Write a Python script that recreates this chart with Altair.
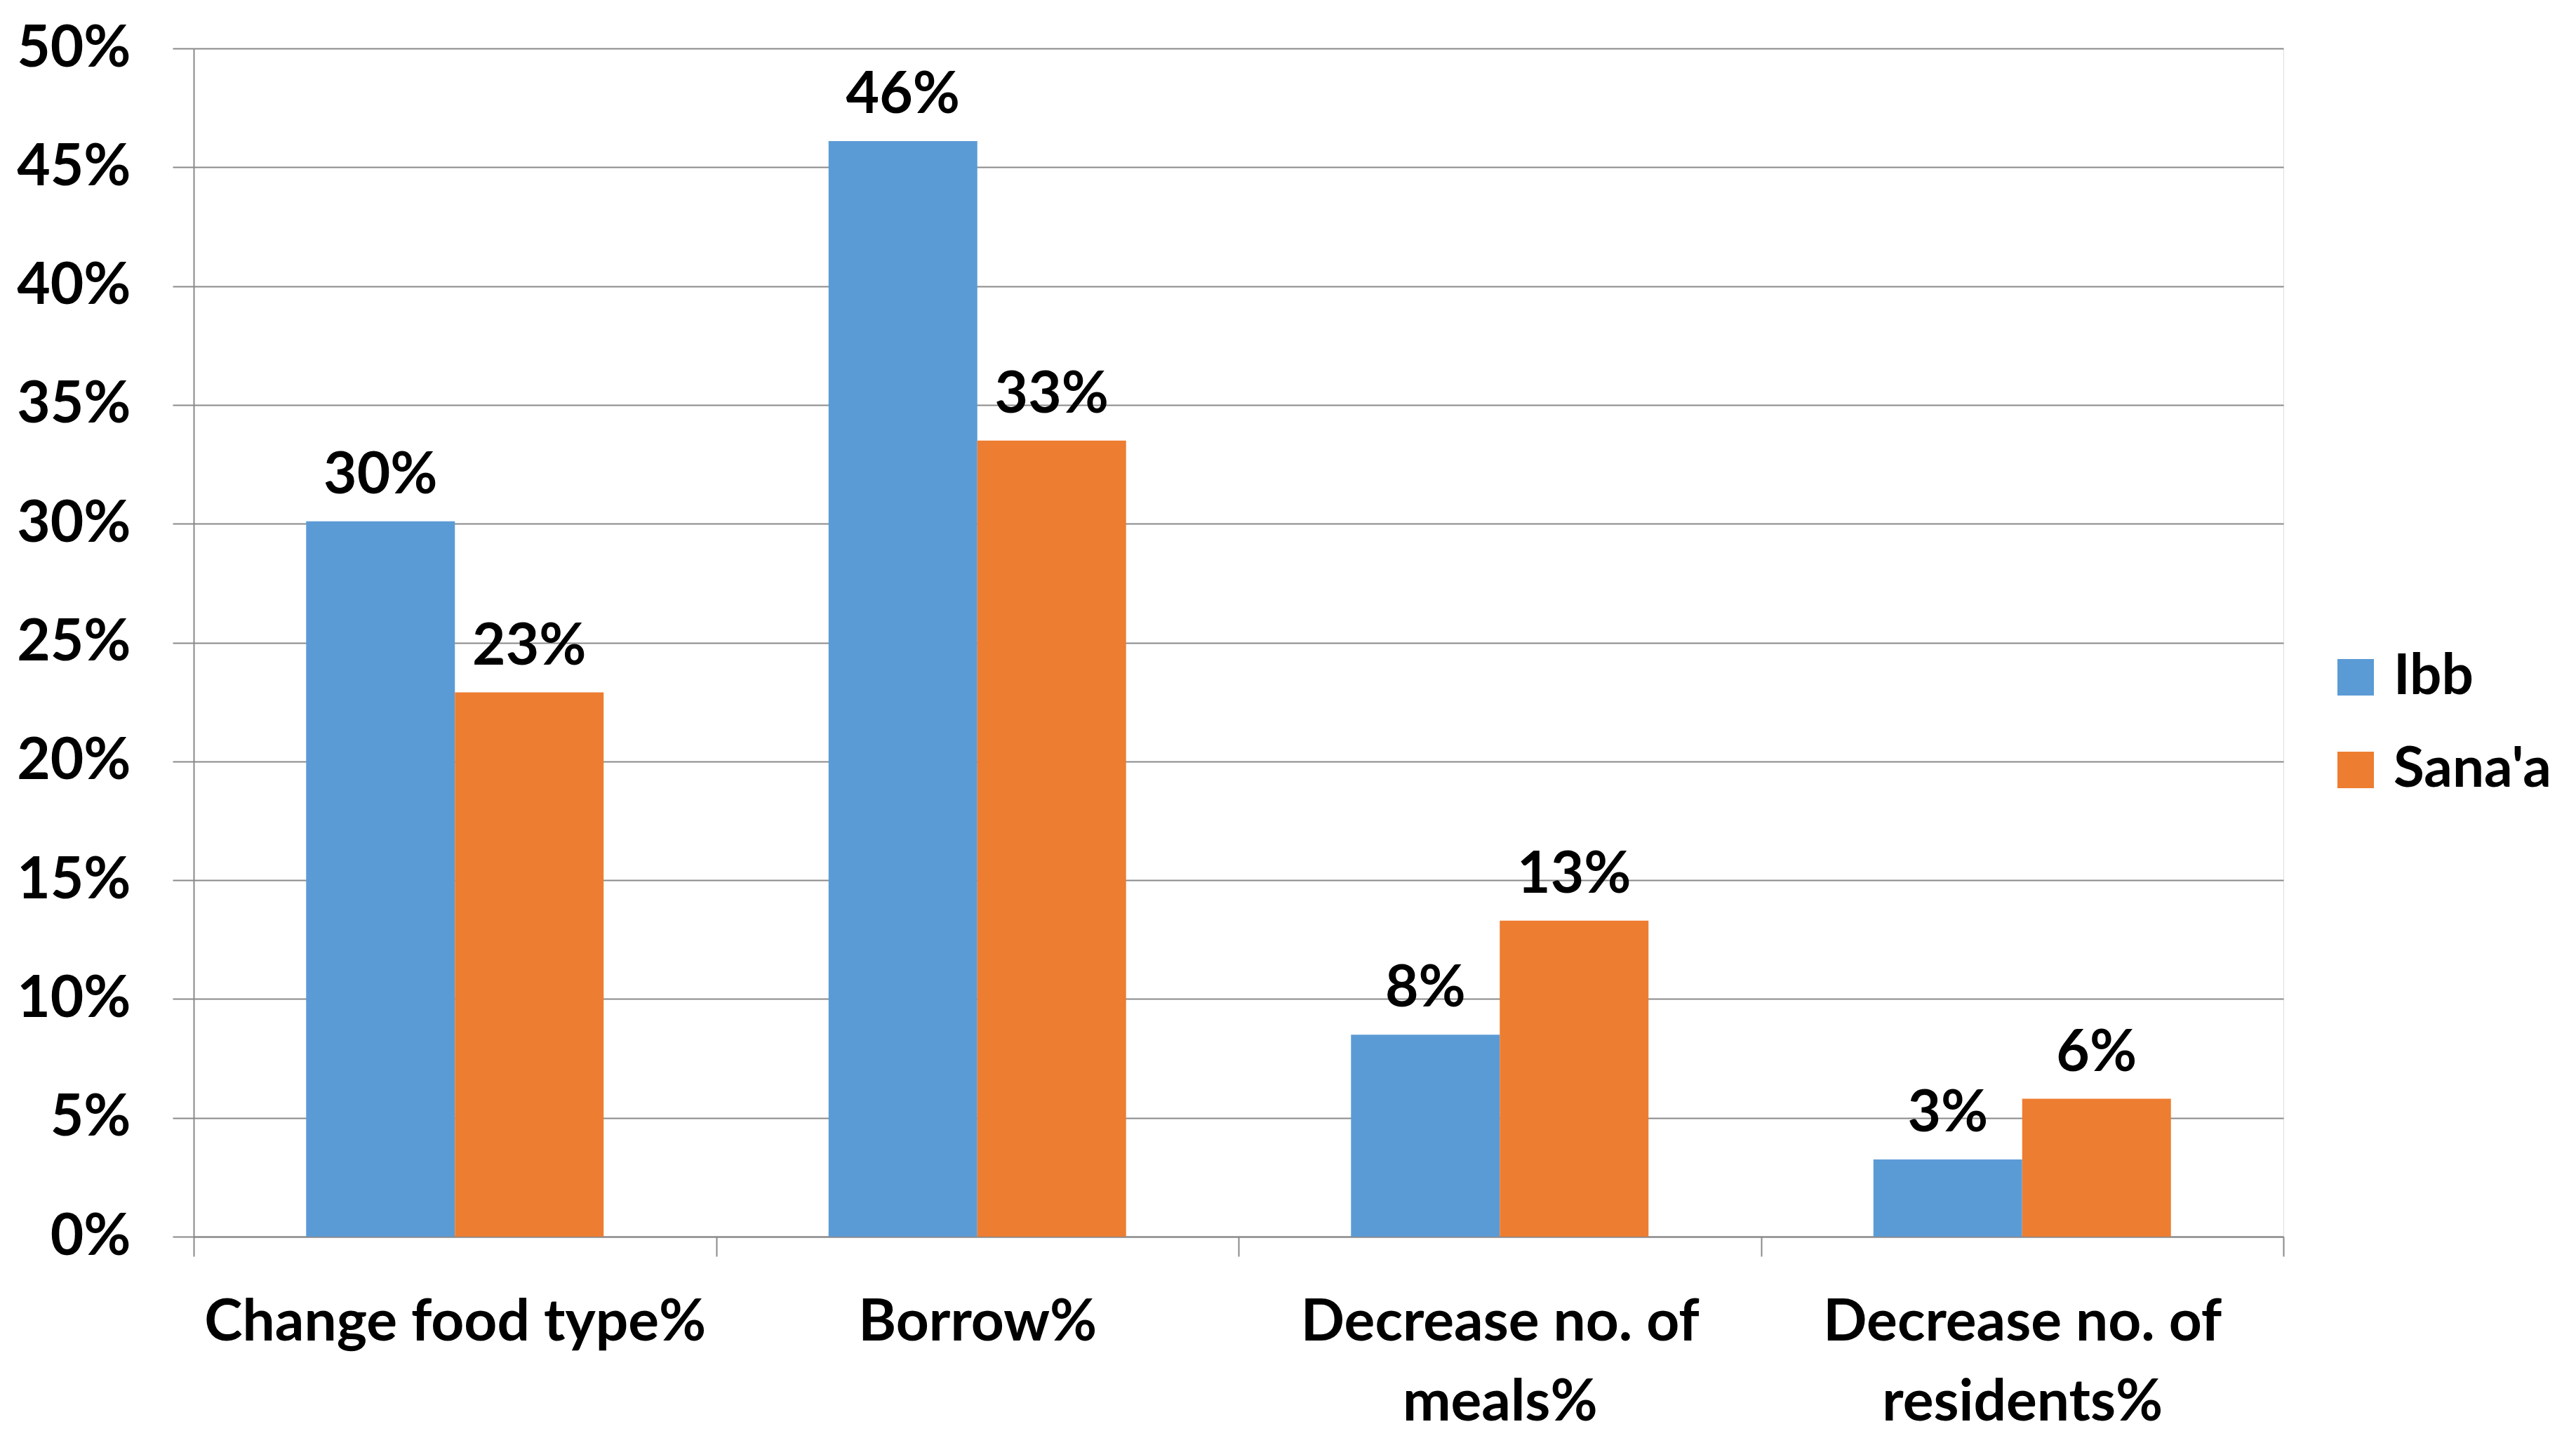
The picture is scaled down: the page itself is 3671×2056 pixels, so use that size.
import altair as alt
import pandas as pd

categories = ["Change food type%", "Borrow%", "Decrease no. of\nmeals%", "Decrease no. of\nresidents%"]
series = ["Ibb", "Sana'a"]
ibb_values = [30.1, 46.1, 8.5, 3.25]
sanaa_values = [22.9, 33.5, 13.3, 5.8]
ibb_labels = ["30%", "46%", "8%", "3%"]
sanaa_labels = ["23%", "33%", "13%", "6%"]
y_ticks = [0, 5, 10, 15, 20, 25, 30, 35, 40, 45, 50]
colors = ["#5B9BD5", "#ED7D31"]

rows = []
for c, v, l in zip(categories, ibb_values, ibb_labels):
    rows.append({"category": c, "series": "Ibb", "value": v, "label": l})
for c, v, l in zip(categories, sanaa_values, sanaa_labels):
    rows.append({"category": c, "series": "Sana'a", "value": v, "label": l})
df = pd.DataFrame(rows)

FONT = "Lato"
FS = 82
GRID = "#898989"

x_enc = alt.X(
    "category:N",
    sort=categories,
    scale=alt.Scale(paddingInner=0, paddingOuter=0),
    axis=alt.Axis(
        title=None,
        labelAngle=0,
        labelFont=FONT,
        labelFontSize=FS,
        labelFontWeight="bold",
        labelColor="black",
        labelBaseline="alphabetic",
        labelPadding=119,
        labelLineHeight=114,
        labelExpr="split(datum.label, '\\n')",
        tickBand="extent",
        tickSize=28,
        tickColor=GRID,
        tickWidth=2,
        domainColor=GRID,
        domainWidth=2,
        grid=False,
        labelLimit=2000,
    ),
)
xoff_scale = alt.Scale(paddingInner=0, paddingOuter=0.756)
y_enc = alt.Y(
    "value:Q",
    scale=alt.Scale(domain=[0, 50], nice=False),
    axis=alt.Axis(
        title=None,
        values=y_ticks,
        labelExpr="datum.value + '%'",
        labelFont=FONT,
        labelFontSize=FS,
        labelFontWeight="bold",
        labelColor="black",
        labelPadding=60,
        tickSize=30,
        tickColor=GRID,
        tickWidth=2,
        domainColor=GRID,
        domainWidth=2,
        grid=True,
        gridColor=GRID,
        gridWidth=2,
    ),
)

bars = alt.Chart(df).mark_bar().encode(
    x=x_enc,
    xOffset=alt.XOffset("series:N", sort=series, scale=xoff_scale),
    y=y_enc,
    color=alt.Color(
        "series:N",
        sort=series,
        scale=alt.Scale(domain=series, range=colors),
        legend=alt.Legend(
            title=None,
            orient="none",
            legendX=3041,
            legendY=856,
            symbolType="square",
            symbolSize=2704,
            symbolStrokeWidth=0,
            symbolOpacity=1,
            labelFont=FONT,
            labelFontSize=80,
            labelFontWeight="bold",
            labelColor="black",
            labelOffset=14,
            rowPadding=52,
            padding=0,
            labelLimit=1000,
        ),
    ),
)

texts = alt.Chart(df).mark_text(
    font=FONT,
    fontSize=FS,
    fontWeight="bold",
    color="black",
    baseline="alphabetic",
    align="center",
    dy=-40,
).encode(
    x=alt.X("category:N", sort=categories),
    xOffset=alt.XOffset("series:N", sort=series),
    y=alt.Y("value:Q"),
    text="label:N",
)

chart = (
    alt.layer(bars, texts)
    .properties(
        width=2978,
        height=1693,
        autosize=alt.AutoSizeParams(type="none"),
        padding={"left": 268, "top": 61, "right": 408, "bottom": 282},
    )
    .configure_view(stroke=None)
    .configure(background="white")
)

chart.save("out.html", embed_options={"renderer": "svg", "actions": False})
